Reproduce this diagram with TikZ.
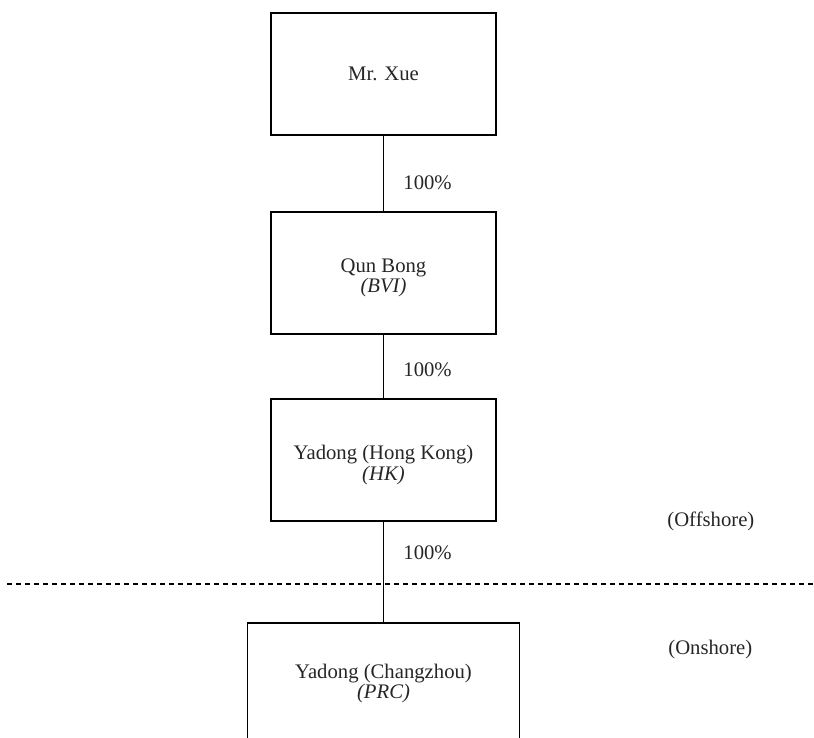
\documentclass[tikz,border=0pt]{standalone}
\usepackage{fontspec}
\setmainfont{Liberation Serif}
\newcommand{\entgap}{\rule{0pt}{12.2pt}}
\begin{document}
\begin{tikzpicture}[x=0.5pt,y=-0.5pt,
  entity/.style={draw,line width=0.75pt,minimum width=112.5pt,minimum height=61pt,inner sep=0pt,align=center,font=\fontsize{10.35}{10}\selectfont,text=black!85},
  share/.style={font=\fontsize{10.35}{10}\selectfont,anchor=west,inner sep=0pt,text=black!85}]
\useasboundingbox (0,0) rectangle (814,738);

\node[entity] (xue) at (383.5,74) {Mr. Xue};
\node[entity] (qun) at (383.5,273) {\entgap Qun Bong\\\textit{(BVI)}};
\node[entity] (hk) at (383.5,460) {\entgap Yadong (Hong Kong)\\\textit{(HK)}};
\node[entity,minimum width=136pt] (prc) at (383.5,684) {Yadong (Changzhou)\\\textit{(PRC)}};

\draw[line width=0.5pt] (xue) -- (qun);
\draw[line width=0.5pt] (qun) -- (hk);
\draw[line width=0.5pt] (hk) -- (prc);

\node[share] (pa) at (403,183) {100\%};
\node[share] (pb) at (403,370) {100\%};
\node[share] (pc) at (403,553) {100\%};

\draw[dash pattern=on 2.5pt off 2pt,line width=0.6pt] (7,584) -- (814,584);

\node[share] (off) at (667,521) {(Offshore)};
\node[share] (on) at (668,650) {(Onshore)};

\end{tikzpicture}
\end{document}
